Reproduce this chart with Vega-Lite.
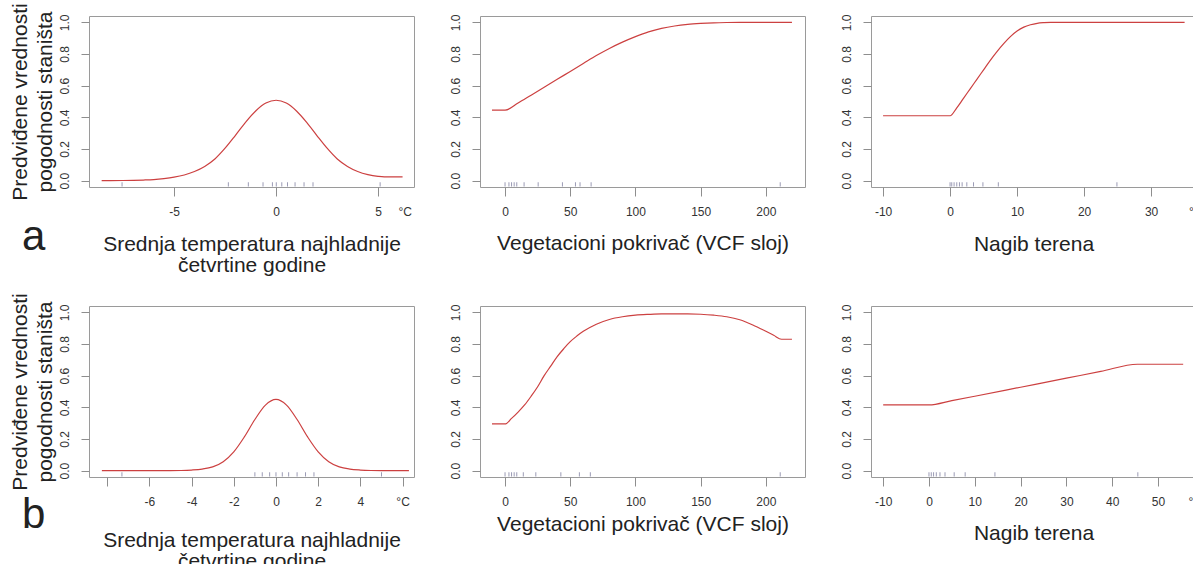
{
  "$schema": "https://vega.github.io/schema/vega-lite/v6.json",
  "background": "white",
  "padding": {"left": 8, "top": 2, "right": 0, "bottom": 0},
  "config": {
    "font": "Liberation Sans",
    "view": {"stroke": "#9a9a9a", "strokeWidth": 1},
    "axis": {
      "domain": false, "grid": false, "tickColor": "#8e8e8e", "tickWidth": 1,
      "labelFont": "Liberation Sans", "labelFontSize": 12, "labelColor": "#333333",
      "titleFont": "Liberation Sans", "titleFontSize": 21, "titleFontWeight": "normal", "titleColor": "#222222",
      "labelFlush": false, "labelOverlap": false, "tickCount": 20
    },
    "axisX": {"tickSize": 9, "labelPadding": 10, "titleLineHeight": 21, "labelOverlap": false},
    "axisY": {"tickSize": 8, "labelPadding": 10, "labelAngle": 270, "labelAlign": "center", "labelBaseline": "bottom", "titleLineHeight": 25, "titlePadding": 3, "labelOverlap": false}
  },
  "datasets": {
    "a_temp": [
      {"x": -8.55, "y": 0.0}, {"x": -7.5, "y": 0.001}, {"x": -7, "y": 0.002}, {"x": -6.5, "y": 0.004},
      {"x": -6, "y": 0.007}, {"x": -5.5, "y": 0.013}, {"x": -5, "y": 0.022}, {"x": -4.5, "y": 0.036},
      {"x": -4, "y": 0.058}, {"x": -3.5, "y": 0.09}, {"x": -3, "y": 0.137}, {"x": -2.5, "y": 0.205},
      {"x": -2, "y": 0.285}, {"x": -1.5, "y": 0.368}, {"x": -1, "y": 0.44}, {"x": -0.5, "y": 0.49},
      {"x": 0, "y": 0.508}, {"x": 0.5, "y": 0.49}, {"x": 1, "y": 0.44}, {"x": 1.5, "y": 0.368},
      {"x": 2, "y": 0.285}, {"x": 2.5, "y": 0.205}, {"x": 3, "y": 0.137}, {"x": 3.5, "y": 0.09},
      {"x": 4, "y": 0.058}, {"x": 4.5, "y": 0.038}, {"x": 5, "y": 0.027}, {"x": 5.3, "y": 0.024},
      {"x": 6.2, "y": 0.024}
    ],
    "a_temp_rug": [
      {"x": -7.55}, {"x": -2.34}, {"x": -1.36}, {"x": -0.64}, {"x": -0.18}, {"x": 0.01},
      {"x": 0.28}, {"x": 0.56}, {"x": 0.93}, {"x": 1.37}, {"x": 1.81}, {"x": 5.1}
    ],
    "a_veg": [
      {"x": -10, "y": 0.445}, {"x": 0, "y": 0.445}, {"x": 10, "y": 0.49}, {"x": 20, "y": 0.54},
      {"x": 30, "y": 0.59}, {"x": 40, "y": 0.64}, {"x": 50, "y": 0.69}, {"x": 60, "y": 0.74},
      {"x": 70, "y": 0.79}, {"x": 80, "y": 0.835}, {"x": 90, "y": 0.875}, {"x": 100, "y": 0.91},
      {"x": 110, "y": 0.94}, {"x": 120, "y": 0.962}, {"x": 130, "y": 0.977}, {"x": 140, "y": 0.987},
      {"x": 150, "y": 0.993}, {"x": 160, "y": 0.997}, {"x": 170, "y": 0.999}, {"x": 180, "y": 1.0},
      {"x": 220, "y": 1.0}
    ],
    "a_veg_rug": [
      {"x": 0}, {"x": 3}, {"x": 5}, {"x": 7}, {"x": 9}, {"x": 14.6}, {"x": 25.4},
      {"x": 44}, {"x": 54}, {"x": 57.5}, {"x": 66}, {"x": 211}
    ],
    "a_slope": [
      {"x": -10, "y": 0.41}, {"x": 0, "y": 0.41}, {"x": 1, "y": 0.46}, {"x": 2, "y": 0.52},
      {"x": 3, "y": 0.58}, {"x": 4, "y": 0.64}, {"x": 5, "y": 0.7}, {"x": 6, "y": 0.76},
      {"x": 7, "y": 0.815}, {"x": 8, "y": 0.865}, {"x": 9, "y": 0.91}, {"x": 10, "y": 0.945},
      {"x": 11, "y": 0.97}, {"x": 12, "y": 0.985}, {"x": 13, "y": 0.994}, {"x": 14, "y": 0.998},
      {"x": 15, "y": 1.0}, {"x": 35, "y": 1.0}
    ],
    "a_slope_rug": [
      {"x": 0}, {"x": 0.25}, {"x": 0.6}, {"x": 1.0}, {"x": 1.4}, {"x": 1.8}, {"x": 2.5},
      {"x": 3.5}, {"x": 4.9}, {"x": 7.2}, {"x": 24.9}
    ],
    "b_temp": [
      {"x": -8.25, "y": 0.0}, {"x": -5, "y": 0.0}, {"x": -4.5, "y": 0.001}, {"x": -4, "y": 0.004},
      {"x": -3.5, "y": 0.01}, {"x": -3, "y": 0.024}, {"x": -2.5, "y": 0.057}, {"x": -2, "y": 0.119},
      {"x": -1.5, "y": 0.213}, {"x": -1, "y": 0.323}, {"x": -0.5, "y": 0.414}, {"x": 0, "y": 0.45},
      {"x": 0.5, "y": 0.414}, {"x": 1, "y": 0.323}, {"x": 1.5, "y": 0.213}, {"x": 2, "y": 0.119},
      {"x": 2.5, "y": 0.057}, {"x": 3, "y": 0.024}, {"x": 3.5, "y": 0.01}, {"x": 4, "y": 0.004},
      {"x": 4.5, "y": 0.001}, {"x": 5, "y": 0.0}, {"x": 6.3, "y": 0.0}
    ],
    "b_temp_rug": [
      {"x": -7.3}, {"x": -1.0}, {"x": -0.65}, {"x": -0.3}, {"x": 0}, {"x": 0.3},
      {"x": 0.6}, {"x": 1.0}, {"x": 1.4}, {"x": 1.8}, {"x": 5.0}
    ],
    "b_veg": [
      {"x": -10, "y": 0.295}, {"x": 0, "y": 0.295}, {"x": 5, "y": 0.33}, {"x": 10, "y": 0.37},
      {"x": 15, "y": 0.415}, {"x": 20, "y": 0.47}, {"x": 25, "y": 0.53}, {"x": 30, "y": 0.6},
      {"x": 35, "y": 0.66}, {"x": 40, "y": 0.72}, {"x": 45, "y": 0.77}, {"x": 50, "y": 0.815},
      {"x": 55, "y": 0.85}, {"x": 60, "y": 0.88}, {"x": 70, "y": 0.925}, {"x": 80, "y": 0.955},
      {"x": 90, "y": 0.972}, {"x": 100, "y": 0.982}, {"x": 110, "y": 0.987}, {"x": 120, "y": 0.99},
      {"x": 130, "y": 0.99}, {"x": 140, "y": 0.99}, {"x": 150, "y": 0.988}, {"x": 160, "y": 0.982},
      {"x": 170, "y": 0.972}, {"x": 180, "y": 0.953}, {"x": 190, "y": 0.92}, {"x": 200, "y": 0.88},
      {"x": 206, "y": 0.855}, {"x": 212, "y": 0.83}, {"x": 220, "y": 0.83}
    ],
    "b_veg_rug": [
      {"x": 0}, {"x": 3}, {"x": 5}, {"x": 7}, {"x": 9}, {"x": 14}, {"x": 23.6},
      {"x": 42.8}, {"x": 57}, {"x": 65.4}, {"x": 211}
    ],
    "b_slope": [
      {"x": -10, "y": 0.415}, {"x": 0, "y": 0.415}, {"x": 5, "y": 0.442}, {"x": 10, "y": 0.47},
      {"x": 20, "y": 0.527}, {"x": 30, "y": 0.584}, {"x": 37.5, "y": 0.627}, {"x": 45.5, "y": 0.672},
      {"x": 55.5, "y": 0.672}
    ],
    "b_slope_rug": [
      {"x": 0}, {"x": 0.5}, {"x": 1}, {"x": 1.6}, {"x": 2.4}, {"x": 3.5}, {"x": 5.5},
      {"x": 7.9}, {"x": 14.4}, {"x": 45.6}
    ]
  },
  "columns": 3,
  "spacing": {"row": 119, "column": 66},
  "bounds": "flush",
  "concat": [
    {
      "width": 325, "height": 171,
      "title": {"text": "a", "orient": "bottom", "anchor": "start", "frame": "group", "fontSize": 42, "fontWeight": "normal", "color": "#222222", "font": "Liberation Sans", "baseline": "alphabetic", "dx": -67, "offset": -25},
      "layer": [
        {
          "data": {"name": "a_temp"},
          "mark": {"type": "line", "color": "#cc4040", "strokeWidth": 1.2, "interpolate": "monotone"},
          "encoding": {
            "x": {"field": "x", "type": "quantitative", "scale": {"domain": [-9.17, 6.76], "nice": false, "zero": false},
              "axis": {"values": [-5, 0, 5, 6.3], "tickCount": 20, "labelExpr": "datum.value > 6 ? '°C' : (datum.value < 0 ? '-' + abs(datum.value) : '' + datum.value)",
                "tickOpacity": {"condition": {"test": "datum.value > 6", "value": 0}, "value": 1},
                "title": ["Srednja temperatura najhladnije", "četvrtine godine"], "titlePadding": 16}},
            "y": {"field": "y", "type": "quantitative", "scale": {"domain": [-0.04, 1.04], "nice": false, "zero": false},
              "axis": {"values": [0, 0.2, 0.4, 0.6, 0.8, 1], "tickCount": 20, "format": ".1f", "title": ["Predviđene vrednosti", "pogodnosti staništa"]}}
          }
        },
        {
          "data": {"name": "a_temp_rug"},
          "mark": {"type": "rule", "color": "#9b9bb5", "strokeWidth": 1},
          "encoding": {"x": {"field": "x", "type": "quantitative"}, "y": {"datum": -0.037}, "y2": {"datum": -0.01}}
        }
      ]
    },
    {
      "width": 325, "height": 171,
      "layer": [
        {
          "data": {"name": "a_veg"},
          "mark": {"type": "line", "color": "#cc4040", "strokeWidth": 1.2, "interpolate": "monotone"},
          "encoding": {
            "x": {"field": "x", "type": "quantitative", "scale": {"domain": [-19.2, 230], "nice": false, "zero": false},
              "axis": {"values": [0, 50, 100, 150, 200], "tickCount": 20, "title": "Vegetacioni pokrivač (VCF sloj)", "titlePadding": 15}},
            "y": {"field": "y", "type": "quantitative", "scale": {"domain": [-0.04, 1.04], "nice": false, "zero": false},
              "axis": {"values": [0, 0.2, 0.4, 0.6, 0.8, 1], "tickCount": 20, "format": ".1f", "title": null}}
          }
        },
        {
          "data": {"name": "a_veg_rug"},
          "mark": {"type": "rule", "color": "#9b9bb5", "strokeWidth": 1},
          "encoding": {"x": {"field": "x", "type": "quantitative"}, "y": {"datum": -0.037}, "y2": {"datum": -0.01}}
        }
      ]
    },
    {
      "width": 325, "height": 171,
      "layer": [
        {
          "data": {"name": "a_slope"},
          "mark": {"type": "line", "color": "#cc4040", "strokeWidth": 1.2, "interpolate": "monotone"},
          "encoding": {
            "x": {"field": "x", "type": "quantitative", "scale": {"domain": [-11.8, 36.7], "nice": false, "zero": false},
              "axis": {"values": [-10, 0, 10, 20, 30, 36.6], "tickCount": 20, "labelExpr": "datum.value > 35 ? '°C' : (datum.value < 0 ? '-' + abs(datum.value) : '' + datum.value)",
                "tickOpacity": {"condition": {"test": "datum.value > 35", "value": 0}, "value": 1},
                "title": "Nagib terena", "titlePadding": 16}},
            "y": {"field": "y", "type": "quantitative", "scale": {"domain": [-0.04, 1.04], "nice": false, "zero": false},
              "axis": {"values": [0, 0.2, 0.4, 0.6, 0.8, 1], "tickCount": 20, "format": ".1f", "title": null}}
          }
        },
        {
          "data": {"name": "a_slope_rug"},
          "mark": {"type": "rule", "color": "#9b9bb5", "strokeWidth": 1},
          "encoding": {"x": {"field": "x", "type": "quantitative"}, "y": {"datum": -0.037}, "y2": {"datum": -0.01}}
        }
      ]
    },
    {
      "width": 325, "height": 171,
      "title": {"text": "b", "orient": "bottom", "anchor": "start", "frame": "group", "fontSize": 42, "fontWeight": "normal", "color": "#222222", "font": "Liberation Sans", "baseline": "alphabetic", "dx": -67, "offset": -43},
      "layer": [
        {
          "data": {"name": "b_temp"},
          "mark": {"type": "line", "color": "#cc4040", "strokeWidth": 1.2, "interpolate": "monotone"},
          "encoding": {
            "x": {"field": "x", "type": "quantitative", "scale": {"domain": [-8.86, 6.54], "nice": false, "zero": false},
              "axis": {"values": [-8, -6, -4, -2, 0, 2, 4, 6], "tickCount": 20, "labelExpr": "datum.value > 5 ? '°C' : (datum.value < -7 ? '' : (datum.value < 0 ? '-' + abs(datum.value) : '' + datum.value))",
                "title": ["Srednja temperatura najhladnije", "četvrtine godine"], "titlePadding": 22}},
            "y": {"field": "y", "type": "quantitative", "scale": {"domain": [-0.04, 1.04], "nice": false, "zero": false},
              "axis": {"values": [0, 0.2, 0.4, 0.6, 0.8, 1], "tickCount": 20, "format": ".1f", "title": ["Predviđene vrednosti", "pogodnosti staništa"]}}
          }
        },
        {
          "data": {"name": "b_temp_rug"},
          "mark": {"type": "rule", "color": "#9b9bb5", "strokeWidth": 1},
          "encoding": {"x": {"field": "x", "type": "quantitative"}, "y": {"datum": -0.037}, "y2": {"datum": -0.01}}
        }
      ]
    },
    {
      "width": 325, "height": 171,
      "layer": [
        {
          "data": {"name": "b_veg"},
          "mark": {"type": "line", "color": "#cc4040", "strokeWidth": 1.2, "interpolate": "monotone"},
          "encoding": {
            "x": {"field": "x", "type": "quantitative", "scale": {"domain": [-19.2, 230], "nice": false, "zero": false},
              "axis": {"values": [0, 50, 100, 150, 200], "tickCount": 20, "title": "Vegetacioni pokrivač (VCF sloj)", "titlePadding": 6}},
            "y": {"field": "y", "type": "quantitative", "scale": {"domain": [-0.04, 1.04], "nice": false, "zero": false},
              "axis": {"values": [0, 0.2, 0.4, 0.6, 0.8, 1], "tickCount": 20, "format": ".1f", "title": null}}
          }
        },
        {
          "data": {"name": "b_veg_rug"},
          "mark": {"type": "rule", "color": "#9b9bb5", "strokeWidth": 1},
          "encoding": {"x": {"field": "x", "type": "quantitative"}, "y": {"datum": -0.037}, "y2": {"datum": -0.01}}
        }
      ]
    },
    {
      "width": 325, "height": 171,
      "layer": [
        {
          "data": {"name": "b_slope"},
          "mark": {"type": "line", "color": "#cc4040", "strokeWidth": 1.2, "interpolate": "monotone"},
          "encoding": {
            "x": {"field": "x", "type": "quantitative", "scale": {"domain": [-12.66, 58.3], "nice": false, "zero": false},
              "axis": {"values": [-10, 0, 10, 20, 30, 40, 50, 58], "tickCount": 20, "labelExpr": "datum.value > 55 ? '°C' : (datum.value < 0 ? '-' + abs(datum.value) : '' + datum.value)",
                "tickOpacity": {"condition": {"test": "datum.value > 55", "value": 0}, "value": 1},
                "title": "Nagib terena", "titlePadding": 15}},
            "y": {"field": "y", "type": "quantitative", "scale": {"domain": [-0.04, 1.04], "nice": false, "zero": false},
              "axis": {"values": [0, 0.2, 0.4, 0.6, 0.8, 1], "tickCount": 20, "format": ".1f", "title": null}}
          }
        },
        {
          "data": {"name": "b_slope_rug"},
          "mark": {"type": "rule", "color": "#9b9bb5", "strokeWidth": 1},
          "encoding": {"x": {"field": "x", "type": "quantitative"}, "y": {"datum": -0.037}, "y2": {"datum": -0.01}}
        }
      ]
    }
  ]
}
